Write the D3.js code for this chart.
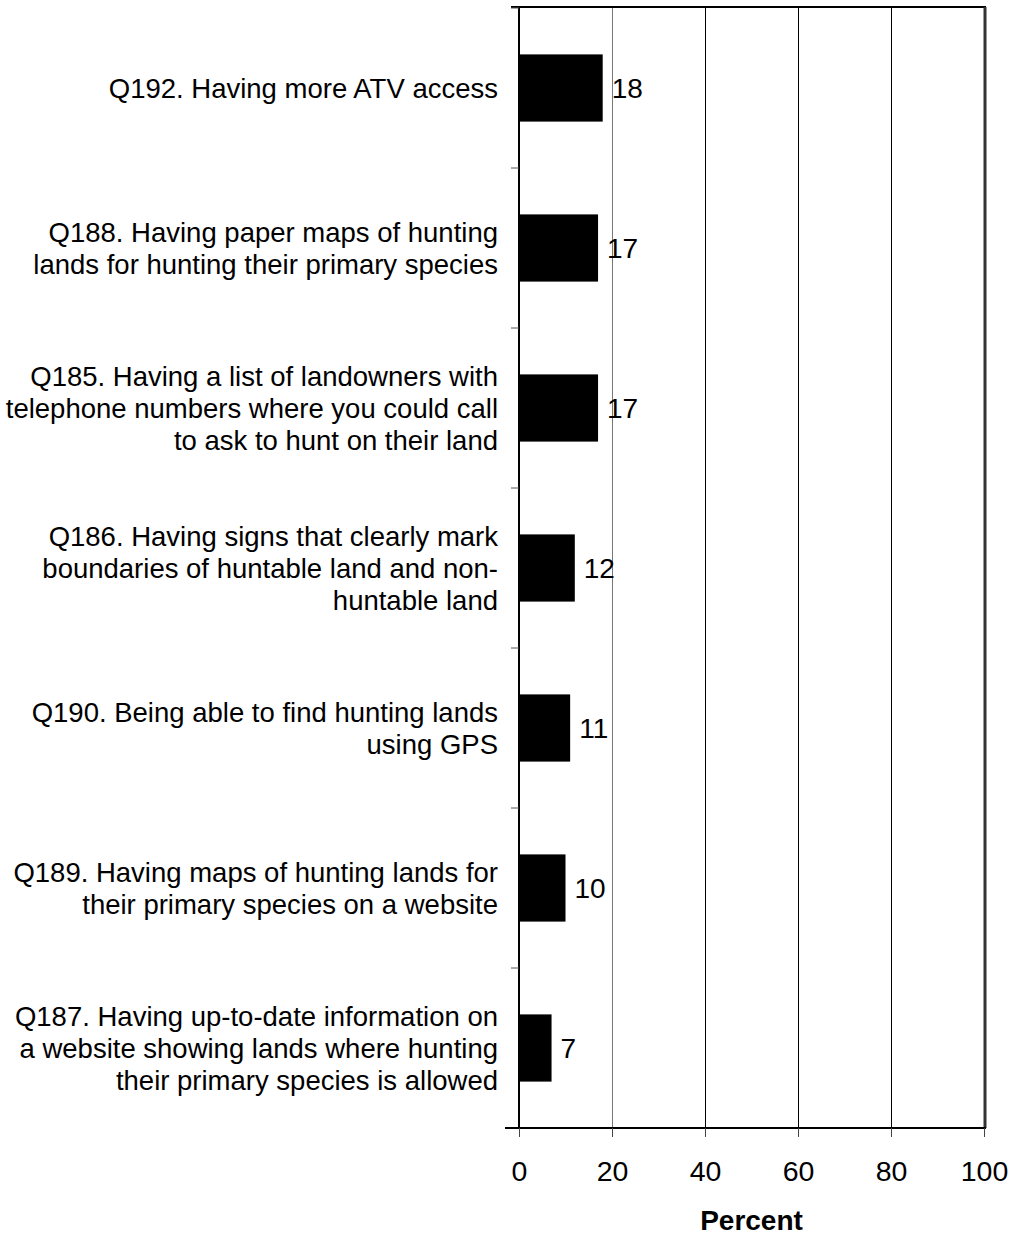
<!DOCTYPE html>
<html>
<head>
<meta charset="utf-8">
<script src="https://cdn.jsdelivr.net/npm/d3@7"></script>
<style>
  body { margin: 0; background: #fff; }
  text { font-family: Arial, "Liberation Sans", sans-serif; }
</style>
</head>
<body>
<div id="chart"></div>
<script>
// chart data
var categories = [
  ["Q192. Having more ATV access"],
  ["Q188. Having paper maps of hunting", "lands for hunting their primary species"],
  ["Q185. Having a list of landowners with", "telephone numbers where you could call", "to ask to hunt on their land"],
  ["Q186. Having signs that clearly mark", "boundaries of huntable land and non-", "huntable land"],
  ["Q190. Being able to find hunting lands", "using GPS"],
  ["Q189. Having maps of hunting lands for", "their primary species on a website"],
  ["Q187. Having up-to-date information on", "a website showing lands where hunting", "their primary species is allowed"]
];
var values = [18, 17, 17, 12, 11, 10, 7];
var xTicks = [0, 20, 40, 60, 80, 100];

var width = 1013, height = 1235;
var plotLeft = 519, plotRight = 984, plotTop = 8, plotBottom = 1128;

var svg = d3.select("#chart")
  .append("svg")
  .attr("width", width)
  .attr("height", height);

var x = d3.scaleLinear().domain([0, 100]).range([plotLeft, plotRight]);
var y = d3.scaleBand()
  .domain(d3.range(categories.length))
  .range([plotTop, plotBottom])
  .paddingInner(0.58)
  .paddingOuter(0.29);

// gridlines
svg.append("g")
  .selectAll("line")
  .data(xTicks.filter(function(d){ return d > 0 && d < 100; }))
  .enter().append("line")
  .attr("x1", function(d){ return Math.round(x(d)) + 0.5; })
  .attr("x2", function(d){ return Math.round(x(d)) + 0.5; })
  .attr("y1", plotTop)
  .attr("y2", plotBottom)
  .attr("stroke", function(d){ return d == 20 ? "#777" : "#000"; })
  .attr("stroke-width", 1);

// frame top / right
svg.append("line")
  .attr("x1", plotLeft - 8).attr("x2", plotRight + 2)
  .attr("y1", plotTop - 1).attr("y2", plotTop - 1)
  .attr("stroke", "#000").attr("stroke-width", 2);
svg.append("line")
  .attr("x1", plotRight + 1).attr("x2", plotRight + 1)
  .attr("y1", plotTop - 1).attr("y2", plotBottom)
  .attr("stroke", "#333").attr("stroke-width", 3);

// bars
svg.append("g")
  .selectAll("rect")
  .data(values)
  .enter().append("rect")
  .attr("x", x(0))
  .attr("y", function(d, i){ return y(i); })
  .attr("width", function(d){ return x(d) - x(0); })
  .attr("height", y.bandwidth())
  .attr("fill", "#000");

// value labels
svg.append("g")
  .selectAll("text")
  .data(values)
  .enter().append("text")
  .attr("x", function(d){ return x(d) + 9; })
  .attr("y", function(d, i){ return y(i) + y.bandwidth() / 2; })
  .attr("dy", "0.36em")
  .attr("font-size", 28)
  .attr("fill", "#000")
  .text(function(d){ return d; });

// left axis with tick marks at category boundaries
var step = (plotBottom - plotTop) / categories.length;
svg.append("line")
  .attr("x1", plotLeft).attr("x2", plotLeft)
  .attr("y1", plotTop - 1).attr("y2", plotBottom)
  .attr("stroke", "#000").attr("stroke-width", 2);
svg.append("g")
  .selectAll("line")
  .data(d3.range(categories.length + 1))
  .enter().append("line")
  .attr("x1", plotLeft - 8).attr("x2", plotLeft)
  .attr("y1", function(d){ return plotTop + d * step; })
  .attr("y2", function(d){ return plotTop + d * step; })
  .attr("stroke", "#555").attr("stroke-width", 1);

// category labels
var lineH = 32;
var labels = svg.append("g")
  .selectAll("text")
  .data(categories)
  .enter().append("text")
  .attr("text-anchor", "end")
  .attr("font-size", 27.5)
  .attr("fill", "#000");
labels.each(function(lines, i){
  var cy = y(i) + y.bandwidth() / 2;
  var y0 = cy - (lines.length - 1) * lineH / 2;
  d3.select(this).selectAll("tspan")
    .data(lines)
    .enter().append("tspan")
    .attr("x", 498)
    .attr("y", function(d, j){ return y0 + j * lineH; })
    .attr("dy", "0.36em")
    .text(function(d){ return d; });
});

// bottom axis
var xAxis = svg.append("g")
  .attr("transform", "translate(0," + plotBottom + ")")
  .call(d3.axisBottom(x).tickValues(xTicks).tickSize(9).tickPadding(24));
xAxis.select(".domain").attr("stroke-width", 2).attr("d", "M" + (plotLeft - 14) + ",0H" + (plotRight + 2));
xAxis.selectAll(".tick line").attr("stroke", "#444");
xAxis.selectAll(".tick text")
  .attr("font-size", 28.5)
  .attr("font-family", "Arial, 'Liberation Sans', sans-serif")
  .attr("fill", "#000");

svg.append("text")
  .attr("x", (plotLeft + plotRight) / 2)
  .attr("y", 1230)
  .attr("text-anchor", "middle")
  .attr("font-size", 28)
  .attr("font-weight", "bold")
  .text("Percent");
</script>
</body>
</html>
